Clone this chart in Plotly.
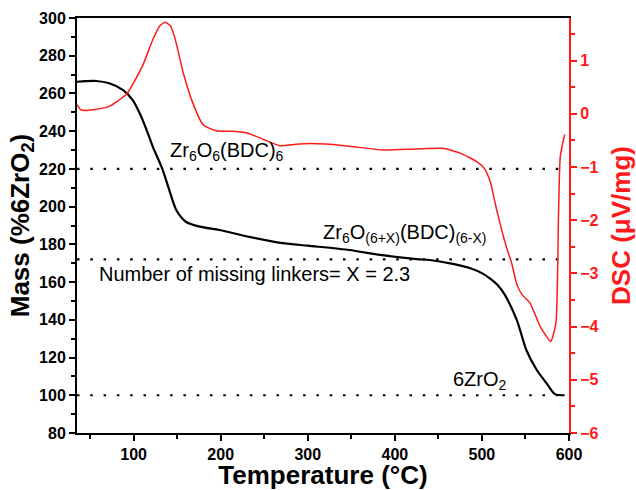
import plotly.graph_objects as go

# ---------------- data ----------------
temp_tga = [35, 45, 57, 72, 88, 99, 107, 115, 122, 133, 141, 149, 160, 176, 199,
            233, 271, 300, 348, 383, 425, 440, 465, 486, 501, 509, 518, 526, 540,
            551, 563, 574, 584, 595]
mass_tga = [266.2, 266.5, 266.6, 265.4, 261.8, 256.5, 249.5, 240.6, 231.8, 220.0,
            208.8, 198.2, 192.0, 189.4, 187.6, 184.0, 180.7, 179.3, 177.0, 174.4,
            172.2, 171.7, 169.8, 167.5, 164.5, 162.0, 158.5, 153.5, 140.0, 124.0,
            113.4, 106.5, 100.6, 100.0]

temp_dsc = [35, 39, 44, 55, 72, 92, 110, 122, 130, 136, 142, 147, 157, 168, 180,
            195, 214, 230, 252, 268, 283, 302, 320, 348, 386, 425, 455, 475, 494,
            503, 510, 517, 528, 534, 540, 546, 555, 567, 579, 585, 588, 590, 595]
dsc = [0.17, 0.08, 0.06, 0.08, 0.14, 0.37, 0.89, 1.39, 1.65, 1.72, 1.66, 1.45,
       0.77, 0.20, -0.21, -0.32, -0.33, -0.36, -0.50, -0.60, -0.58, -0.56, -0.57,
       -0.61, -0.68, -0.66, -0.65, -0.74, -0.90, -1.03, -1.30, -1.81, -2.50, -2.80,
       -3.20, -3.40, -3.55, -4.00, -4.28, -3.93, -1.86, -0.80, -0.39]

ref_levels = [220, 172, 100]
ref_x = [35, 590]

label_texts = ["Zr<sub>6</sub>O<sub>6</sub>(BDC)<sub>6</sub>",
               "Zr<sub>6</sub>O<sub>(6+X)</sub>(BDC)<sub>(6-X)</sub>",
               "Number of missing linkers= X = 2.3",
               "6ZrO<sub>2</sub>"]
label_x = [140, 315.6, 57.5, 465]
label_y = [229.1, 186.0, 164.3, 107.6]

RED = "#ff1a1a"
FONT = "Arial, Liberation Sans, sans-serif"

fig = go.Figure()

for lvl in ref_levels:
    fig.add_trace(go.Scatter(x=ref_x, y=[lvl, lvl], mode="lines",
                             line=dict(color="black", width=2.2, dash="2.5px,10.8px"),
                             showlegend=False, hoverinfo="skip"))

fig.add_trace(go.Scatter(x=temp_tga, y=mass_tga, mode="lines",
                         line=dict(color="black", width=2.2, shape="spline", smoothing=0.7),
                         showlegend=False))

fig.add_trace(go.Scatter(x=temp_dsc, y=dsc, mode="lines", yaxis="y2",
                         line=dict(color=RED, width=1.5, shape="spline", smoothing=0.5),
                         showlegend=False))

for t, xv, yv in zip(label_texts, label_x, label_y):
    fig.add_annotation(x=xv, y=yv, xref="x", yref="y", text=t, showarrow=False,
                       xanchor="left", yanchor="middle",
                       font=dict(family=FONT, size=20, color="black"))

tickfont = dict(family=FONT, size=16, color="black", weight="bold")
titlefont = dict(family=FONT, size=26, color="black", weight="bold")

fig.update_layout(
    width=636, height=490,
    margin=dict(l=77, r=67, t=18, b=57, autoexpand=False),
    plot_bgcolor="white", paper_bgcolor="white",
    showlegend=False,
    xaxis=dict(range=[35, 600], tick0=0, dtick=100, showgrid=False, zeroline=False,
               automargin=False,
               showline=True, linecolor="black", linewidth=2, mirror=True,
               ticks="outside", ticklen=6, tickwidth=1.5, tickcolor="black",
               minor=dict(dtick=50, ticks="outside", ticklen=4, tickwidth=1.5, tickcolor="black"),
               tickfont=tickfont,
               title=dict(text="Temperature (°C)", font=titlefont, standoff=7)),
    yaxis=dict(range=[80, 300], tick0=0, dtick=20, showgrid=False, zeroline=False,
               automargin=False,
               showline=True, linecolor="black", linewidth=2,
               ticks="outside", ticklen=6, tickwidth=1.5, tickcolor="black",
               minor=dict(dtick=10, ticks="outside", ticklen=4, tickwidth=1.5, tickcolor="black"),
               tickfont=tickfont,
               title=dict(text="Mass (%6ZrO<sub>2</sub>)", font=titlefont, standoff=2)),
    yaxis2=dict(range=[-6, 1.8], tick0=0, dtick=1, overlaying="y", side="right",
                showgrid=False, zeroline=False, automargin=False,
                showline=True, linecolor=RED, linewidth=2,
                ticks="outside", ticklen=6, tickwidth=1.5, tickcolor=RED,
                minor=dict(dtick=0.5, ticks="outside", ticklen=4, tickwidth=1.5, tickcolor=RED),
                tickfont=dict(family=FONT, size=16, color=RED, weight="bold"),
                title=dict(text="DSC (μV/mg)", font=dict(family=FONT, size=26, color=RED, weight="bold"),
                           standoff=15)),
)

fig.write_html("out.html", config={"displayModeBar": False},
               post_script="document.body.style.margin='0';document.body.style.overflow='hidden';")
